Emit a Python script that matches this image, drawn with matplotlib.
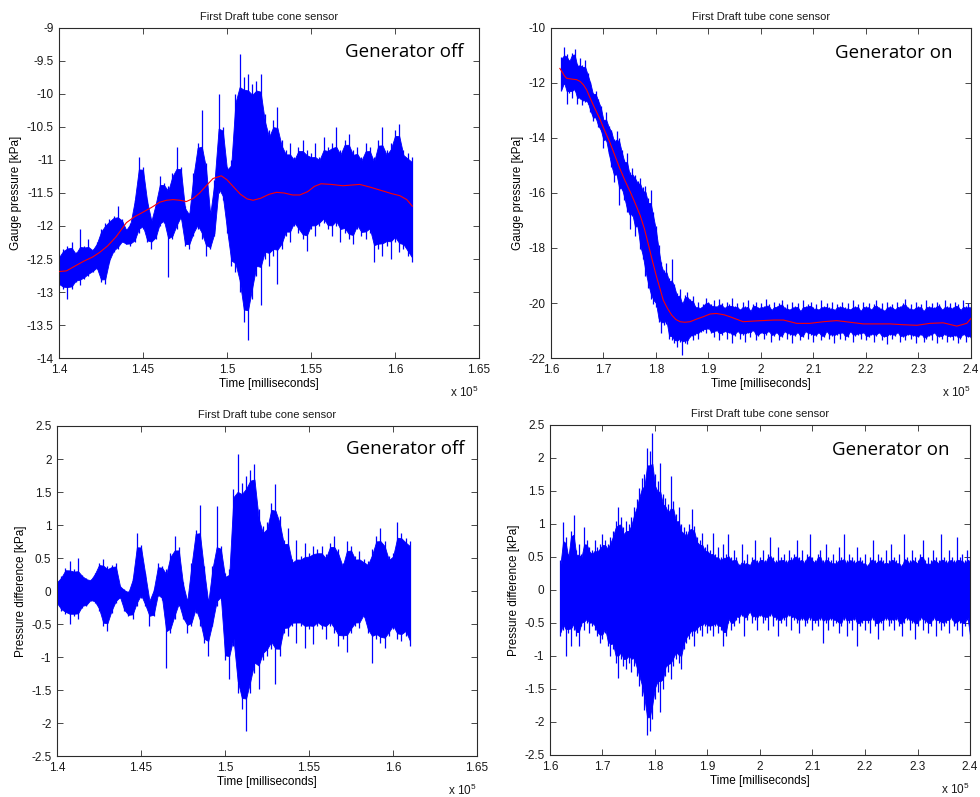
import numpy as np
import matplotlib
matplotlib.use("Agg")
import matplotlib.pyplot as plt
from matplotlib.ticker import FuncFormatter

# ---------------- data (time in units of 1e5 ms, pressure in kPa) ----------------
# Generator off: sample grid for the signal envelope
t_off = np.round(np.arange(1.400, 1.61001, 0.0025), 4)

gauge_off_hi = [
    -12.45, -12.35, -12.30, -12.25, -12.40, -12.05, -12.30, -12.20, -12.35, -12.25,
    -12.05, -11.95, -11.90, -11.85, -11.70, -11.90, -12.05, -11.95, -11.60, -10.95,
    -11.10, -11.60, -11.90, -11.65, -11.25, -11.35, -11.40, -11.20, -10.80, -11.10,
    -11.70, -11.80, -11.20, -10.75, -10.25, -11.05, -11.80, -11.30, -10.00, -10.50,
    -11.10, -11.00, -10.00, -9.40, -9.75, -9.70, -9.85, -9.80, -9.70, -10.30,
    -10.55, -10.40, -10.20, -10.70, -10.85, -10.75, -10.95, -10.80, -10.70, -10.85,
    -10.90, -10.75, -10.95, -10.65, -10.80, -10.75, -10.50, -10.85, -10.70, -10.60,
    -10.85, -10.80, -10.95, -10.75, -10.80, -10.95, -10.70, -10.50, -10.85, -10.75,
    -10.55, -10.45, -10.85, -10.90, -10.95,
]
gauge_off_lo = [
    -12.90, -12.95, -13.10, -12.95, -12.85, -12.90, -12.80, -12.75, -12.70, -12.65,
    -12.85, -12.88, -12.55, -12.40, -12.35, -12.25, -12.28, -12.30, -12.25, -12.10,
    -12.05, -12.25, -12.35, -12.20, -12.00, -11.95, -12.77, -12.20, -12.05, -11.90,
    -12.30, -12.35, -12.15, -12.05, -12.20, -12.45, -12.35, -12.15, -11.50, -11.60,
    -12.10, -12.60, -12.70, -13.00, -13.45, -13.72, -13.10, -12.75, -13.20, -12.50,
    -12.60, -12.45, -12.88, -12.35, -12.15, -12.25, -12.00, -12.10, -12.20, -12.38,
    -12.05, -12.15, -12.00, -11.95, -12.05, -12.15, -12.00, -12.25, -12.10, -12.20,
    -12.28, -12.05, -12.15, -12.20, -12.10, -12.55, -12.35, -12.45, -12.30, -12.50,
    -12.25, -12.40, -12.35, -12.45, -12.55,
]
trend_off_t = [1.4000, 1.4044, 1.4100, 1.4150, 1.4200, 1.4242, 1.4290, 1.4341, 1.4401,
               1.4450, 1.4500, 1.4550, 1.4599, 1.4640, 1.4679, 1.4720, 1.4758, 1.4800,
               1.4837, 1.4880, 1.4917, 1.4966, 1.5000, 1.5036, 1.5080, 1.5120, 1.5155,
               1.5200, 1.5250, 1.5294, 1.5340, 1.5390, 1.5433, 1.5480, 1.5520, 1.5560,
               1.5620, 1.5690, 1.5740, 1.5790, 1.5850, 1.5929, 1.5980, 1.6028, 1.6070,
               1.6103]
trend_off_y = [-12.69, -12.68, -12.60, -12.53, -12.47, -12.40, -12.30, -12.16, -11.95,
               -11.86, -11.79, -11.72, -11.64, -11.61, -11.60, -11.61, -11.63, -11.58,
               -11.50, -11.38, -11.28, -11.24, -11.30, -11.40, -11.52, -11.59, -11.61,
               -11.58, -11.52, -11.49, -11.50, -11.53, -11.53, -11.48, -11.40, -11.36,
               -11.37, -11.39, -11.38, -11.37, -11.41, -11.47, -11.51, -11.54, -11.60,
               -11.70]

diff_off_hi = [
    0.15, 0.23, 0.35, 0.45, 0.33, 0.50, 0.25, 0.20, 0.18, 0.28,
    0.43, 0.48, 0.38, 0.40, 0.43, 0.08, 0.03, 0.00, 0.20, 0.88,
    0.70, 0.28, -0.13, 0.03, 0.43, 0.38, 0.33, 0.58, 0.83, 0.66,
    0.13, -0.13, 0.43, 0.93, 1.31, 0.38, -0.13, 0.38, 1.29, 0.68,
    0.28, 0.33, 1.54, 2.07, 1.64, 1.74, 1.84, 1.92, 1.24, 0.98,
    1.04, 1.34, 1.62, 1.14, 0.78, 0.96, 0.48, 0.78, 0.53, 0.73,
    0.58, 0.68, 0.63, 0.68, 0.56, 0.73, 0.83, 0.63, 0.43, 0.76,
    0.68, 0.53, 0.61, 0.48, 0.45, 0.63, 0.83, 0.96, 0.76, 0.53,
    0.58, 1.04, 0.88, 0.81, 0.76,
]
diff_off_lo = [
    -0.20, -0.30, -0.35, -0.50, -0.38, -0.43, -0.25, -0.23, -0.15, -0.18,
    -0.30, -0.53, -0.60, -0.33, -0.18, -0.10, -0.30, -0.38, -0.43, -0.23,
    -0.10, -0.23, -0.53, -0.38, -0.08, -0.13, -1.16, -0.63, -0.43, -0.23,
    -0.43, -0.63, -0.53, -0.33, -0.53, -0.78, -0.98, -0.53, -0.23, -0.13,
    -1.04, -1.34, -0.83, -1.54, -1.79, -2.12, -1.54, -1.24, -1.49, -1.04,
    -0.98, -0.88, -1.41, -0.98, -0.63, -0.68, -0.53, -0.78, -0.53, -0.86,
    -0.58, -0.81, -0.53, -0.58, -0.73, -0.53, -0.63, -0.83, -0.73, -0.93,
    -0.63, -0.53, -0.56, -0.40, -0.63, -1.09, -0.73, -0.78, -0.86, -0.68,
    -0.58, -0.73, -0.76, -0.68, -0.83,
]

# Generator on: sample grid for the signal envelope
t_on = np.round(np.arange(1.620, 2.40001, 0.005), 4)

gauge_on_hi = [
    -11.05, -10.70, -10.95, -11.15, -10.90, -10.75, -11.30, -11.10, -11.35, -11.15, -11.65,
    -11.95, -12.35, -12.30, -12.60, -12.85, -13.30, -13.05, -13.55, -13.70, -14.05,
    -13.75, -14.00, -14.45, -14.80, -14.55, -15.25, -15.10, -15.35, -15.55, -15.45,
    -15.80, -15.75, -16.20, -15.90, -16.70, -17.20, -17.90, -18.50, -18.80, -18.55,
    -19.10, -18.40, -19.30, -19.65, -19.50, -19.95, -19.70, -19.60, -19.85, -19.75,
    -20.10, -19.95, -20.15, -20.05, -19.80, -19.95,
    -20.05, -19.90, -20.10, -19.85, -20.00, -20.15, -19.95, -20.05, -19.80, -20.10,
    -20.00, -20.20, -19.95, -20.10, -19.90, -20.25, -20.05, -19.95, -20.15, -20.00,
    -20.10, -19.85, -20.05, -20.20, -19.95, -20.10, -20.00, -19.90, -20.15, -20.05,
    -20.20, -19.95, -20.10, -20.00, -20.25, -19.90, -20.10, -20.05, -19.95, -20.15,
    -20.05, -20.20, -19.90, -20.10, -20.00, -20.15, -19.95, -20.20, -20.05, -20.10,
    -19.95, -20.15, -20.00, -20.20, -19.90, -20.10, -20.05, -20.25, -19.95, -20.10,
    -20.00, -20.20, -20.05, -19.90, -20.15, -20.00, -20.25, -19.95, -20.10, -20.05,
    -20.20, -19.95, -20.10, -20.00, -19.85, -20.15, -20.05, -20.20, -19.95, -20.10,
    -20.05, -20.25, -19.90, -20.10, -20.00, -20.15, -19.95, -20.05, -20.20, -19.90,
    -20.10, -20.00, -20.15, -19.95, -20.05, -20.20, -19.90, -20.10, -20.00, -20.10,
]
gauge_on_lo = [
    -12.30, -12.05, -12.75, -12.35, -12.55, -12.30, -12.75, -12.60, -12.80, -12.70, -12.75,
    -13.05, -13.40, -13.30, -13.60, -13.75, -14.35, -14.10, -14.60, -15.05, -15.60,
    -15.40, -16.45, -15.90, -16.25, -16.70, -17.30, -16.85, -17.55, -17.30, -18.05,
    -18.40, -19.00, -19.45, -19.85, -20.05, -20.15, -20.70, -21.10, -20.80, -20.75,
    -21.30, -21.35, -21.45, -21.60, -21.40, -21.88, -21.45, -21.50, -21.25, -21.35,
    -21.15, -21.30, -21.05, -21.00, -21.10, -20.95,
    -21.10, -21.25, -21.00, -21.35, -21.15, -21.05, -21.30, -21.10, -21.45, -21.20,
    -21.05, -21.30, -21.15, -21.40, -21.10, -21.25, -21.00, -21.35, -21.20, -21.10,
    -21.30, -21.15, -21.05, -21.40, -21.20, -21.10, -21.35, -21.25, -21.05, -21.30,
    -21.15, -21.45, -21.20, -21.10, -21.35, -21.25, -21.05, -21.30, -21.15, -21.40,
    -21.20, -21.10, -21.35, -21.25, -21.05, -21.30, -21.20, -21.45, -21.15, -21.30,
    -21.10, -21.35, -21.25, -21.05, -21.40, -21.20, -21.15, -21.30, -21.10, -21.35,
    -21.25, -21.15, -21.40, -21.20, -21.10, -21.35, -21.25, -21.50, -21.15, -21.30,
    -21.20, -21.10, -21.40, -21.25, -21.35, -21.15, -21.30, -21.20, -21.45, -21.25,
    -21.15, -21.40, -21.30, -21.20, -21.35, -21.10, -21.45, -21.25, -21.30, -21.15,
    -21.40, -21.25, -21.35, -21.20, -21.45, -21.30, -21.15, -21.40, -21.25, -21.30,
]
trend_on_t = [1.617, 1.622, 1.626, 1.630, 1.640, 1.649, 1.656, 1.662, 1.668, 1.674,
              1.683, 1.693, 1.702, 1.712, 1.721, 1.731, 1.741, 1.752, 1.761, 1.770,
              1.778, 1.785, 1.793, 1.801, 1.808, 1.814, 1.822, 1.830, 1.838, 1.846,
              1.855, 1.865, 1.878, 1.890, 1.903, 1.915, 1.930, 1.941, 1.955, 1.966,
              1.992, 2.024, 2.043, 2.068, 2.093, 2.119, 2.144, 2.170, 2.195, 2.246,
              2.271, 2.297, 2.322, 2.347, 2.373, 2.392, 2.400]
trend_on_y = [-11.47, -11.62, -11.75, -11.83, -11.86, -11.88, -11.95, -12.07, -12.25, -12.52,
              -12.90, -13.30, -13.72, -14.15, -14.60, -15.10, -15.55, -16.00, -16.40, -16.82,
              -17.30, -17.83, -18.45, -19.04, -19.50, -19.90, -20.20, -20.44, -20.60, -20.68,
              -20.70, -20.68, -20.58, -20.50, -20.40, -20.38, -20.43, -20.50, -20.60, -20.68,
              -20.65, -20.62, -20.62, -20.74, -20.74, -20.68, -20.64, -20.70, -20.76, -20.76,
              -20.79, -20.81, -20.74, -20.72, -20.84, -20.74, -20.56]

diff_on_hi = [
    0.45, 1.03, 0.80, 0.55, 0.90, 1.13, 0.60, 0.70, 0.55, 0.95,
    0.75, 0.65, 0.60, 0.75, 0.65, 0.70, 0.85, 0.75, 0.70, 0.80,
    0.90, 1.05, 1.25, 1.10, 0.95, 1.05, 1.00, 1.10, 1.25, 1.38,
    1.55, 1.70, 1.75, 2.15, 2.10, 2.38, 1.75, 1.65, 1.93, 1.45,
    1.40, 1.30, 1.73, 1.35, 1.15, 1.25, 1.00, 0.95, 0.90, 1.00,
    1.22, 0.97, 0.80, 0.75, 0.87, 0.65, 0.70,
    0.60, 0.87, 0.55, 0.65, 0.50, 0.70, 0.55, 0.85, 0.50, 0.60,
    0.50, 0.40, 0.70, 0.45, 0.55, 0.40, 0.50, 0.75, 0.45, 0.50,
    0.60, 0.45, 0.55, 0.80, 0.50, 0.45, 0.65, 0.50, 0.55, 0.45,
    0.60, 0.50, 0.55, 0.75, 0.50, 0.60, 0.45, 0.55, 0.85, 0.50,
    0.45, 0.55, 0.60, 0.45, 0.70, 0.50, 0.45, 0.55, 0.45, 0.65,
    0.50, 0.85, 0.45, 0.55, 0.50, 0.45, 0.65, 0.50, 0.45, 0.55,
    0.40, 0.50, 0.75, 0.45, 0.55, 0.50, 0.45, 0.60, 0.45, 0.70,
    0.50, 0.45, 0.55, 0.40, 0.85, 0.50, 0.45, 0.60, 0.50, 0.45,
    0.55, 0.75, 0.45, 0.50, 0.45, 0.60, 0.50, 0.45, 0.85, 0.50,
    0.45, 0.60, 0.50, 0.45, 0.80, 0.50, 0.55, 0.45, 0.60, 0.50,
]
diff_on_lo = [
    -0.70, -0.60, -1.00, -0.65, -0.85, -0.60, -0.70, -0.85, -0.55, -0.60,
    -0.50, -0.65, -0.55, -0.60, -0.70, -0.80, -0.75, -0.65, -0.85, -1.00,
    -0.90, -1.10, -1.33, -1.05, -1.15, -1.20, -1.10, -1.25, -1.15, -1.30,
    -1.45, -1.60, -1.82, -2.20, -2.14, -1.95, -1.65, -1.54, -1.85, -1.50,
    -1.30, -1.25, -1.35, -1.15, -1.05, -1.10, -1.20, -0.90, -0.80, -0.75,
    -0.70, -0.85, -0.65, -0.60, -0.70, -0.55, -0.65,
    -0.60, -0.70, -0.55, -0.65, -0.60, -0.85, -0.70, -0.50, -0.60, -0.55,
    -0.45, -0.50, -0.40, -0.70, -0.45, -0.35, -0.50, -0.45, -0.60, -0.40,
    -0.50, -0.45, -0.60, -0.40, -0.55, -0.45, -0.70, -0.50, -0.45, -0.55,
    -0.40, -0.60, -0.45, -0.50, -0.65, -0.45, -0.55, -0.50, -0.45, -0.60,
    -0.50, -0.55, -0.45, -0.80, -0.50, -0.60, -0.45, -0.55, -0.50, -0.65,
    -0.55, -0.45, -0.70, -0.50, -0.60, -0.45, -0.85, -0.55, -0.50, -0.60,
    -0.50, -0.65, -0.45, -0.55, -0.75, -0.50, -0.60, -0.45, -0.55, -0.50,
    -0.60, -0.45, -0.55, -0.70, -0.50, -0.45, -0.60, -0.50, -0.75, -0.55,
    -0.45, -0.60, -0.50, -0.65, -0.55, -0.45, -0.70, -0.50, -0.60, -0.55,
    -0.50, -0.65, -0.45, -0.55, -0.60, -0.50, -0.70, -0.55, -0.45, -0.75,
]

# axis tick values
ticks_x_off = [1.40, 1.45, 1.50, 1.55, 1.60, 1.65]
ticks_x_on = [1.6, 1.7, 1.8, 1.9, 2.0, 2.1, 2.2, 2.3, 2.4]
ticks_gauge_off = [-14, -13.5, -13, -12.5, -12, -11.5, -11, -10.5, -10, -9.5, -9]
ticks_gauge_on = [-22, -20, -18, -16, -14, -12, -10]
ticks_diff = [-2.5, -2, -1.5, -1, -0.5, 0, 0.5, 1, 1.5, 2, 2.5]

TITLE = "First Draft tube cone sensor"
XLABEL = "Time [milliseconds]"

# ---------------- styling ----------------
plt.rcParams.update({
    "font.family": ["Liberation Sans", "DejaVu Sans"],
    "font.size": 8,
    "axes.unicode_minus": False,
    "mathtext.default": "regular",
    "xtick.direction": "in",
    "ytick.direction": "in",
    "xtick.top": True,
    "ytick.right": True,
    "xtick.major.size": 4,
    "ytick.major.size": 4,
    "xtick.major.width": 0.6,
    "ytick.major.width": 0.6,
    "xtick.major.pad": 4,
    "ytick.major.pad": 4,
    "axes.linewidth": 0.8,
    "axes.edgecolor": "#2b2b2b",
    "text.color": "#1a1a1a",
    "xtick.color": "#2b2b2b",
    "ytick.color": "#2b2b2b",
    "xtick.labelcolor": "#1a1a1a",
    "ytick.labelcolor": "#1a1a1a",
})

fmt_g = FuncFormatter(lambda v, p: f"{v:g}")

fig = plt.figure(figsize=(9.8, 7.97), dpi=100)
fig.patch.set_facecolor("white")

positions = {
    "tl": [0.0602, 0.5508, 0.4286, 0.4141],
    "tr": [0.5622, 0.5508, 0.4286, 0.4141],
    "bl": [0.0582, 0.0514, 0.4286, 0.4141],
    "br": [0.5612, 0.0527, 0.4286, 0.4141],
}


def draw_signal(ax, t, hi, lo):
    """Dense oscillating record: a solid body plus one thin stroke per sample.
    Extremes that rise above both neighbours stay as narrow spikes, while
    swings spanning two or more samples keep most of their width; the body
    sits slightly inside the strokes so the edge keeps a ragged fringe."""
    t = np.asarray(t, float)
    hi = np.asarray(hi, float)
    lo = np.asarray(lo, float)
    hp = np.pad(hi, 1, mode="edge")
    lp = np.pad(lo, 1, mode="edge")
    open_hi = np.maximum(np.minimum(hp[:-2], hp[1:-1]), np.minimum(hp[1:-1], hp[2:]))
    open_lo = np.minimum(np.maximum(lp[:-2], lp[1:-1]), np.maximum(lp[1:-1], lp[2:]))
    mid = 0.5 * (hi + lo)
    body_hi = mid + 0.9 * (open_hi - mid)
    body_lo = mid + 0.9 * (open_lo - mid)
    ax.fill_between(t, body_lo, body_hi, facecolor="#0000ff", edgecolor="#0000ff",
                    linewidth=0.6, zorder=2)
    ax.vlines(t, lo, hi, color="#0000ff", linewidth=0.9, zorder=2)


def panel(key, t, hi, lo, xlim, xticks, ylim, yticks, ylabel, tag, tag_xy,
          trend_t=None, trend_y=None):
    ax = fig.add_axes(positions[key])
    draw_signal(ax, t, hi, lo)
    if trend_t is not None:
        ax.plot(trend_t, trend_y, color="#ff0000", lw=0.8, zorder=3)
    ax.set_xlim(*xlim)
    ax.set_ylim(*ylim)
    ax.set_xticks(xticks)
    ax.set_yticks(yticks)
    ax.xaxis.set_major_formatter(fmt_g)
    ax.yaxis.set_major_formatter(fmt_g)
    ax.tick_params(labelsize=8.5)
    ax.set_title(TITLE, fontsize=8, pad=6)
    ax.set_xlabel(XLABEL, fontsize=8.5, labelpad=2)
    ax.set_ylabel(ylabel, fontsize=8.5, labelpad=3)
    ax.text(tag_xy[0], tag_xy[1], tag, transform=ax.transAxes, ha="right",
            va="baseline", fontsize=13.5, family=["Open Sans", "DejaVu Sans"],
            color="black")
    ax.text(1.0, -0.118, r"x 10$^{5}$", transform=ax.transAxes, ha="right",
            va="baseline", fontsize=8.5)
    return ax


panel("tl", t_off, gauge_off_hi, gauge_off_lo, (1.40, 1.65), ticks_x_off,
      (-14, -9), ticks_gauge_off, "Gauge pressure [kPa]", "Generator off",
      (0.962, 0.912), trend_off_t, trend_off_y)
panel("tr", t_on, gauge_on_hi, gauge_on_lo, (1.6, 2.4), ticks_x_on,
      (-22, -10), ticks_gauge_on, "Gauge pressure [kPa]", "Generator on",
      (0.955, 0.909), trend_on_t, trend_on_y)
panel("bl", t_off, diff_off_hi, diff_off_lo, (1.40, 1.65), ticks_x_off,
      (-2.5, 2.5), ticks_diff, "Pressure difference [kPa]", "Generator off",
      (0.969, 0.915))
panel("br", t_on, diff_on_hi, diff_on_lo, (1.6, 2.4), ticks_x_on,
      (-2.5, 2.5), ticks_diff, "Pressure difference [kPa]", "Generator on",
      (0.950, 0.909))

fig.savefig("out.png", dpi=100, facecolor="white")
